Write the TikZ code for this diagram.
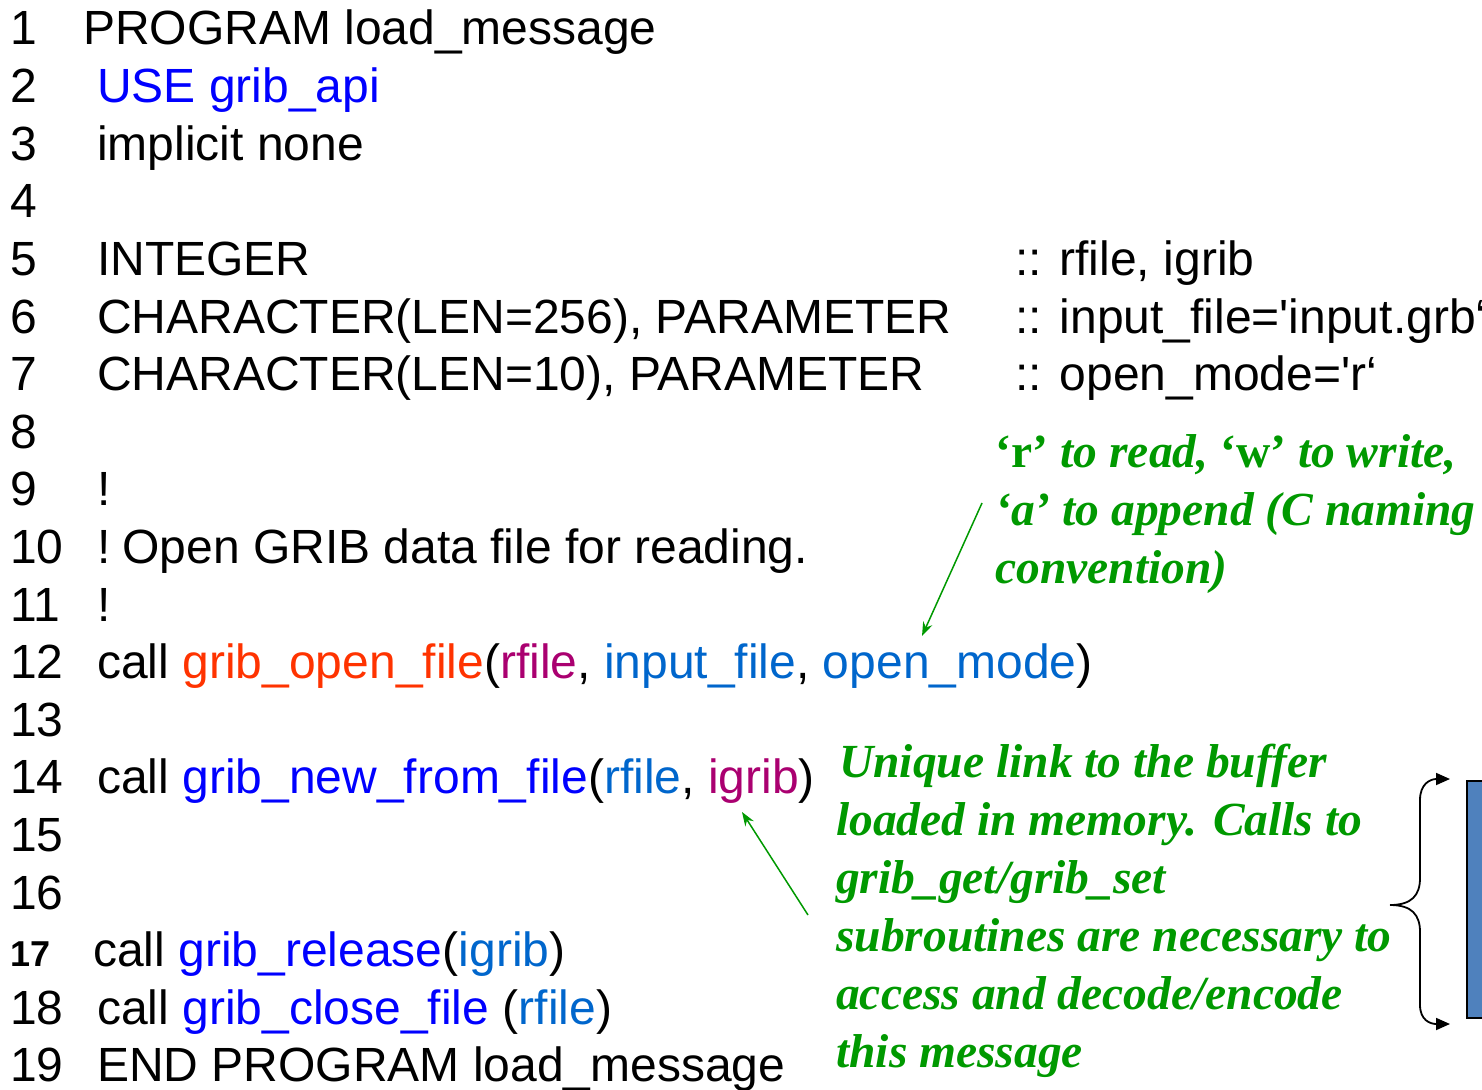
\documentclass[tikz,border=0pt]{standalone}
\usepackage{fontspec}
\setmainfont{Liberation Sans}[Ligatures=TeXOff]
\newfontfamily\notefont{Liberation Serif}
\usetikzlibrary{arrows.meta}
\definecolor{gr}{RGB}{0,153,0}
\definecolor{fnblue}{RGB}{0,0,255}
\definecolor{fnred}{RGB}{255,51,0}
\definecolor{argmag}{RGB}{170,0,112}
\definecolor{argblue}{RGB}{0,102,204}
\definecolor{boxblue}{RGB}{79,129,189}
\tikzset{
  codetxt/.style={anchor=base west,inner sep=0pt,font=\fontsize{48}{57.6}\selectfont},
  notetxt/.style={anchor=base west,inner sep=0pt,text=gr,font=\notefont\fontsize{47.5}{58}\selectfont\bfseries\itshape,align=left},
  notearrow/.style={draw=gr,line width=1.5pt,-{Stealth[length=14pt,width=10pt]}},
  bracearrow/.style={draw=black,line width=1.8pt,-{Triangle[length=14pt,width=12pt]}}
}
\begin{document}
\begin{tikzpicture}[x=1pt,y=-1pt]
\useasboundingbox (0,0) rectangle (1482,1089);
% line numbers
\foreach \n in {1,...,16,18,19}{
  \node[codetxt] (n\n) at (10,{45+(\n-1)*57.6}) {\n};
}
\node[codetxt,font=\fontsize{36}{40}\selectfont\bfseries] (n17) at (10,{45+16*57.6}) {17};
% code lines
\node[codetxt] (c1) at (83,45) {PROGRAM load\_message};
\node[codetxt,text=fnblue] (c2) at (97,{45+1*57.6}) {USE grib\_api};
\node[codetxt] (c3) at (97,{45+2*57.6}) {implicit none};
\node[codetxt] (c5) at (97,{45+4*57.6}) {INTEGER};
\node[codetxt] (c6) at (97,{45+5*57.6}) {CHARACTER(LEN=256), PARAMETER};
\node[codetxt] (c7) at (97,{45+6*57.6}) {CHARACTER(LEN=10), PARAMETER};
\node[codetxt] (d5) at (1015,{45+4*57.6}) {:: rfile, igrib};
\node[codetxt] (d6) at (1015,{45+5*57.6}) {:: input\_file='input.grb‘};
\node[codetxt] (d7) at (1015,{45+6*57.6}) {:: open\_mode='r‘};
\node[codetxt] (c9) at (97,{45+8*57.6}) {!};
\node[codetxt] (c10) at (97,{45+9*57.6}) {!\hspace{-6pt} Open GRIB data file for reading.};
\node[codetxt] (c11) at (97,{45+10*57.6}) {!};
\node[codetxt] (c12) at (97,{45+11*57.6}) {call \textcolor{fnred}{grib\_open\_file}(\textcolor{argmag}{rfile}, \textcolor{argblue}{input\_file}, \textcolor{argblue}{open\_mode})};
\node[codetxt] (c14) at (97,{45+13*57.6}) {call \textcolor{fnblue}{grib\_new\_from\_file}(\textcolor{argblue}{rfile}, \textcolor{argmag}{igrib})};
\node[codetxt] (c17) at (93,{45+16*57.6}) {call \textcolor{fnblue}{grib\_release}(\textcolor{argblue}{igrib})};
\node[codetxt] (c18) at (97,{45+17*57.6}) {call \textcolor{fnblue}{grib\_close\_file} (\textcolor{argblue}{rfile})};
\node[codetxt] (c19) at (97,{45+18*57.6}) {END PROGRAM load\_message};
% annotations
\node[notetxt] (note1) at (995,583) {\upshape‘r’ \itshape to read, \upshape‘w’ \itshape to write,\\ ‘a’ to append (C naming\\ convention)};
\node[notetxt] (note2) at (836,1067) {\hspace{3pt}Unique link to the buffer\\ loaded in memory. Calls to\\ grib\_get/grib\_set\\ subroutines are necessary to\\ access and decode/encode\\ this message};
% arrows
\coordinate (a1s) at (982,503);
\coordinate (a1e) at (922,636);
\draw[notearrow] (a1s) -- (a1e);
\coordinate (a2s) at (808,915);
\coordinate (a2e) at (742,812);
\draw[notearrow] (a2s) -- (a2e);
% brace and box
\node[draw=black,line width=1.8pt,fill=boxblue,minimum width=40pt,minimum height=237pt,anchor=north west,inner sep=0pt] (box) at (1466,780) {};
\coordinate (btip) at (1390,905);
\draw[bracearrow] (btip) .. controls (1412,905) and (1420,895) .. (1420,878) -- (1420,800) .. controls (1420,784) and (1430,779) .. (1450,779);
\draw[bracearrow] (btip) .. controls (1412,905) and (1420,915) .. (1420,932) -- (1420,1005) .. controls (1420,1020) and (1430,1024) .. (1450,1024);
\end{tikzpicture}
\end{document}
